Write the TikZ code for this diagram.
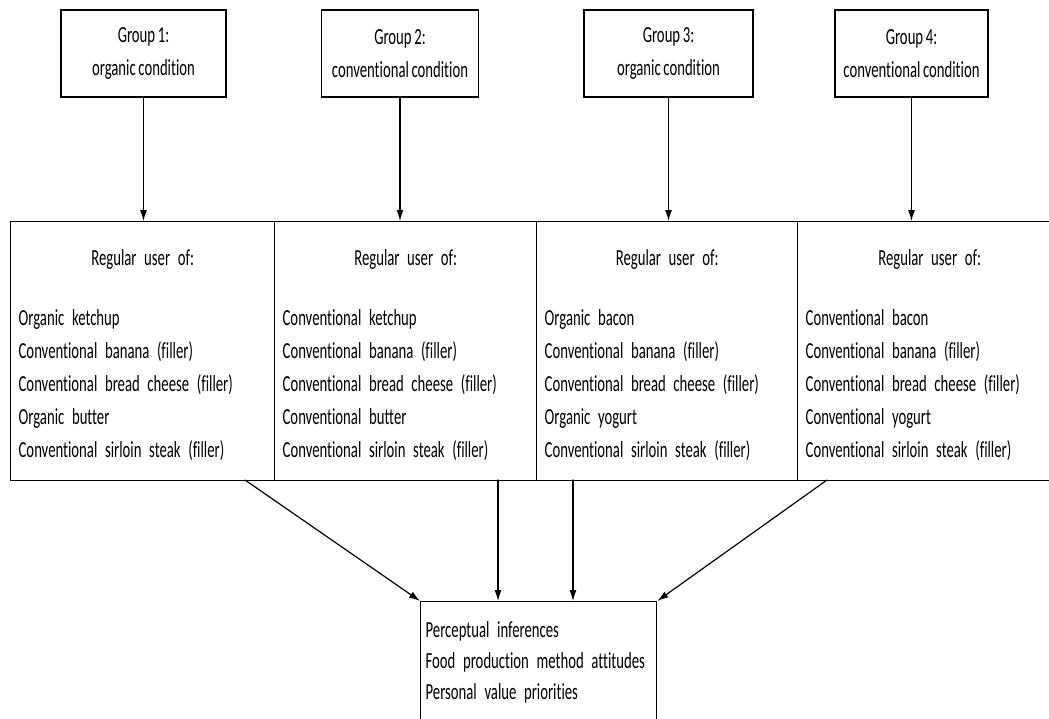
\documentclass[tikz,border=0pt]{standalone}
\usepackage{fontspec}
\setmainfont{Carlito}[FakeStretch=0.64,Ligatures=NoCommon]
\usetikzlibrary{arrows.meta}
\newcommand\boxfont{\fontsize{23}{33}\selectfont\setlength{\spaceskip}{2.6pt}}
\newcommand\outfont{\fontsize{23}{31}\selectfont\setlength{\spaceskip}{4pt}}
\begin{document}
\begin{tikzpicture}[x=1pt,y=-1pt,line cap=round,>={Latex[length=11pt,width=7pt]},
	every node/.style={font=\boxfont},
	groupbox/.style={draw,line width=1.3pt,minimum height=87pt,align=center,inner sep=0pt},
	userbox/.style={draw,line width=1.3pt,anchor=north west,minimum height=259pt,inner sep=8pt,align=left},
	conn/.style={->,line width=1.2pt}]
	\useasboundingbox (0,0) rectangle (1049,718);
	\clip (0,0) rectangle (1049,718);
	% groups
	\node[groupbox,minimum width=165pt] (g1) at (143.5,53.5) {Group 1:\\organic condition};
	\node[groupbox,minimum width=157pt] (g2) at (400,53.5) {Group 2:\\conventional condition};
	\node[groupbox,minimum width=169pt] (g3) at (668.5,53.5) {Group 3:\\organic condition};
	\node[groupbox,minimum width=153pt] (g4) at (911.5,53.5) {Group 4:\\conventional condition};
	% products
	\node[userbox,text width=248pt] (c1) at (10,221) {\rule{0pt}{24pt}\makebox[\linewidth]{Regular user of:}\\[27pt]
		Organic ketchup\\Conventional banana (filler)\\Conventional bread cheese (filler)\\Organic butter\\Conventional sirloin steak (filler)};
	\node[userbox,text width=246pt] (c2) at (274,221) {\rule{0pt}{24pt}\makebox[\linewidth]{Regular user of:}\\[27pt]
		Conventional ketchup\\Conventional banana (filler)\\Conventional bread cheese (filler)\\Conventional butter\\Conventional sirloin steak (filler)};
	\node[userbox,text width=245pt] (c3) at (536,221) {\rule{0pt}{24pt}\makebox[\linewidth]{Regular user of:}\\[27pt]
		Organic bacon\\Conventional banana (filler)\\Conventional bread cheese (filler)\\Organic yogurt\\Conventional sirloin steak (filler)};
	\node[userbox,text width=248pt] (c4) at (797,221) {\rule{0pt}{24pt}\makebox[\linewidth]{Regular user of:}\\[27pt]
		Conventional bacon\\Conventional banana (filler)\\Conventional bread cheese (filler)\\Conventional yogurt\\Conventional sirloin steak (filler)};
	% outcomes
	\node[draw,line width=1.3pt,anchor=north west,text width=226pt,minimum height=122pt,inner xsep=5pt,inner ysep=8pt,align=left,
		font=\outfont] (out) at (420,601)
		{Perceptual inferences\\Food production method attitudes\\Personal value priorities};
	\foreach \g/\c in {g1/c1,g2/c2,g3/c3,g4/c4}
		\draw[conn] (\g.south) -- (\g.south |- \c.north);
	\coordinate (s1) at (245,480);
	\coordinate (s2) at (498,480);
	\coordinate (s3) at (573,480);
	\coordinate (s4) at (827,480);
	\draw[conn] (s1) -- (out.north west);
	\draw[conn] (s2) -- (s2 |- out.north);
	\draw[conn] (s3) -- (s3 |- out.north);
	\draw[conn] (s4) -- (out.north east);
\end{tikzpicture}
\end{document}
